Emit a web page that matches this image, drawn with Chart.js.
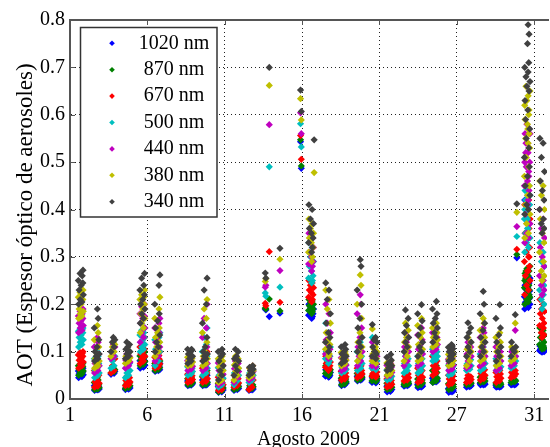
<!DOCTYPE html>
<html><head><meta charset="utf-8">
<script src="https://cdn.jsdelivr.net/npm/chart.js@4/dist/chart.umd.min.js"></script>
<style>html,body{margin:0;padding:0;background:#fff;overflow:hidden;width:550px;height:447px}canvas{display:block}</style>
</head><body><canvas id="c" width="551" height="447"></canvas>
<script>
const xTickValues = [1, 6, 11, 16, 21, 26, 31];
const xTickLabels = ['1', '6', '11', '16', '21', '27', '31'];
const yTickValues = [0, 0.1, 0.2, 0.3, 0.4, 0.5, 0.6, 0.7, 0.8];
const seriesNames = ['1020 nm', '870 nm', '670 nm', '500 nm', '440 nm', '380 nm', '340 nm'];
const seriesColors = ['#0000ff', '#008000', '#ff0000', '#00bfbf', '#bf00bf', '#bfbf00', '#404040'];
const yTitle = 'AOT (Espesor óptico de aerosoles)';
const xTitle = 'Agosto 2009';

// time of each measurement (day of August 2009, on the plot's axis)
const t = [
1.56,1.77,1.66,1.86,1.59,1.72,1.83,1.54,1.79,1.65,1.84,
2.59,2.80,2.69,2.89,2.62,2.75,2.86,2.57,2.82,2.77,
3.65,3.85,3.74,3.90,3.80,
4.58,4.79,4.68,4.88,4.61,4.74,4.85,4.67,
5.54,5.75,5.64,5.84,5.57,5.70,5.81,5.52,5.77,5.63,5.82,
6.50,6.71,6.60,6.80,6.53,6.66,6.77,6.48,6.75,6.81,
8.62,8.83,8.72,8.92,8.65,8.78,8.89,8.60,8.85,
9.58,9.79,9.68,9.88,9.61,9.74,9.85,9.56,9.81,9.67,9.86,
10.60,10.81,10.70,10.90,10.63,10.76,10.87,10.58,10.83,
11.60,11.81,11.70,11.90,11.63,11.76,11.87,11.69,
12.57,12.77,12.66,12.84,12.61,12.81,
13.62,13.66,13.88,
14.57,
15.90,15.95,
16.44,16.65,16.54,16.74,16.47,16.60,16.71,16.42,16.67,16.62,16.78,
17.53,17.74,17.63,17.83,17.56,17.69,17.80,17.51,17.76,17.71,
18.55,18.76,18.65,18.85,18.58,18.71,18.82,18.53,18.78,
19.58,19.79,19.68,19.88,19.61,19.74,19.85,19.56,19.81,19.76,
20.54,20.75,20.64,20.84,20.57,20.70,20.81,20.52,20.77,
21.50,21.71,21.60,21.80,21.53,21.66,21.77,21.48,21.73,
22.59,22.80,22.69,22.89,22.62,22.75,22.86,22.68,
23.49,23.70,23.59,23.79,23.52,23.65,23.76,23.47,23.72,
24.45,24.66,24.55,24.75,24.48,24.61,24.72,24.43,24.68,
25.48,25.69,25.58,25.78,25.51,25.64,25.75,25.46,25.71,25.66,
26.63,26.84,26.73,26.93,26.66,26.79,26.90,26.72,
27.53,27.74,27.63,27.83,27.56,27.69,27.80,27.51,27.76,27.71,
28.55,28.76,28.65,28.85,28.58,28.71,28.82,28.53,28.78,
29.51,29.72,29.61,29.81,29.54,29.78,29.88,
30.39,30.63,30.51,30.73,30.43,30.57,30.69,30.37,30.65,30.49,30.71,30.45,30.59,30.41,30.67,30.53,30.73,30.47,30.61,30.39,30.65,30.57,30.67,30.61,
31.37,31.58,31.47,31.67,31.40,31.53,31.64,31.35,31.60,31.46,31.65,31.51
];

const aot340 = [
0.200,0.205,0.210,0.220,0.230,0.240,0.245,0.250,0.260,0.265,0.272,
0.080,0.085,0.090,0.095,0.100,0.110,0.125,0.150,0.170,0.190,
0.100,0.110,0.120,0.125,0.130,
0.085,0.090,0.095,0.100,0.105,0.110,0.115,0.120,
0.160,0.170,0.180,0.190,0.200,0.210,0.220,0.230,0.240,0.255,0.265,
0.100,0.110,0.120,0.135,0.150,0.165,0.180,0.200,0.240,0.262,
0.075,0.080,0.085,0.090,0.095,0.100,0.103,0.105,0.105,
0.080,0.085,0.090,0.095,0.100,0.110,0.130,0.160,0.200,0.230,0.255,
0.040,0.050,0.060,0.070,0.080,0.090,0.095,0.100,0.105,
0.050,0.060,0.070,0.080,0.085,0.090,0.100,0.105,
0.050,0.055,0.060,0.063,0.067,0.070,
0.266,0.255,0.700,
0.318,
0.652,0.607,
0.410,0.400,0.380,0.370,0.360,0.350,0.340,0.330,0.320,0.310,0.547,
0.245,0.230,0.210,0.180,0.160,0.140,0.130,0.120,0.110,0.100,
0.075,0.080,0.085,0.090,0.095,0.100,0.105,0.110,0.115,
0.100,0.110,0.120,0.130,0.150,0.170,0.200,0.230,0.280,0.294,
0.157,0.130,0.125,0.120,0.110,0.100,0.095,0.090,0.085,
0.060,0.063,0.066,0.070,0.074,0.078,0.082,0.088,0.094,
0.100,0.110,0.120,0.130,0.140,0.155,0.170,0.188,
0.090,0.100,0.110,0.120,0.135,0.150,0.165,0.180,0.199,
0.120,0.130,0.140,0.150,0.160,0.170,0.180,0.190,0.206,
0.080,0.085,0.090,0.095,0.100,0.103,0.106,0.109,0.112,0.115,
0.090,0.100,0.110,0.120,0.130,0.140,0.150,0.161,
0.090,0.100,0.110,0.120,0.130,0.145,0.160,0.180,0.200,0.227,
0.080,0.090,0.100,0.110,0.120,0.135,0.150,0.170,0.199,
0.090,0.100,0.105,0.110,0.120,0.178,0.412,
0.39,0.40,0.41,0.43,0.45,0.47,0.49,0.51,0.53,0.55,0.57,0.59,0.61,0.63,0.65,0.66,0.67,0.68,0.69,0.70,0.71,0.75,0.77,0.79,
0.55,0.54,0.51,0.48,0.46,0.44,0.42,0.40,0.38,0.37,0.36,0.35
];

const aot380 = [
0.170,0.175,0.180,0.185,0.190,0.200,0.210,0.215,0.220,0.225,0.230,
0.065,0.070,0.075,0.080,0.085,0.095,0.110,0.125,0.140,0.155,
0.090,0.100,0.110,0.115,0.120,
0.075,0.080,0.083,0.087,0.090,0.095,0.100,0.105,
0.140,0.150,0.160,0.170,0.180,0.190,0.200,0.210,0.215,0.220,0.230,
0.090,0.100,0.110,0.120,0.130,0.140,0.150,0.170,0.190,0.215,
0.070,0.072,0.075,0.078,0.080,0.083,0.086,0.088,0.090,
0.070,0.075,0.080,0.085,0.090,0.100,0.120,0.140,0.170,0.190,0.210,
0.035,0.040,0.050,0.060,0.068,0.075,0.080,0.085,0.090,
0.040,0.050,0.058,0.065,0.072,0.078,0.085,0.090,
0.045,0.050,0.055,0.060,0.065,0.070,
0.248,0.254,0.662,
0.295,
0.634,0.589,
0.380,0.370,0.360,0.350,0.340,0.330,0.320,0.310,0.300,0.290,0.478,
0.230,0.210,0.190,0.160,0.140,0.125,0.115,0.105,0.095,0.090,
0.070,0.074,0.078,0.082,0.086,0.090,0.094,0.098,0.100,
0.080,0.090,0.100,0.110,0.120,0.140,0.170,0.200,0.240,0.262,
0.148,0.110,0.105,0.100,0.095,0.090,0.085,0.080,0.075,
0.050,0.053,0.056,0.060,0.064,0.068,0.072,0.076,0.080,
0.080,0.090,0.100,0.110,0.120,0.130,0.145,0.160,
0.080,0.085,0.095,0.105,0.115,0.130,0.140,0.155,0.170,
0.110,0.115,0.120,0.125,0.130,0.135,0.140,0.150,0.160,
0.070,0.073,0.077,0.081,0.085,0.088,0.091,0.094,0.097,0.100,
0.070,0.080,0.090,0.100,0.105,0.110,0.120,0.130,
0.080,0.085,0.090,0.100,0.110,0.120,0.130,0.145,0.160,0.170,
0.070,0.075,0.080,0.090,0.100,0.110,0.120,0.130,0.140,
0.080,0.085,0.090,0.100,0.110,0.160,0.394,
0.34,0.35,0.37,0.39,0.41,0.43,0.45,0.47,0.49,0.51,0.53,0.55,0.57,0.59,0.61,0.63,0.65,0.66,0.64,0.62,0.60,0.58,0.56,0.54,
0.46,0.45,0.43,0.40,0.38,0.35,0.33,0.31,0.29,0.27,0.26,0.25
];

const aot440 = [
0.140,0.145,0.150,0.155,0.160,0.165,0.170,0.175,0.180,0.185,0.190,
0.055,0.060,0.065,0.070,0.075,0.085,0.095,0.110,0.120,0.130,
0.085,0.090,0.100,0.110,0.115,
0.065,0.070,0.074,0.078,0.082,0.086,0.090,0.095,
0.120,0.130,0.140,0.150,0.160,0.170,0.175,0.180,0.190,0.195,0.200,
0.080,0.090,0.100,0.110,0.120,0.130,0.140,0.150,0.160,0.170,
0.060,0.063,0.066,0.069,0.072,0.075,0.078,0.081,0.085,
0.060,0.065,0.070,0.075,0.080,0.090,0.110,0.130,0.150,0.170,0.200,
0.030,0.035,0.045,0.052,0.060,0.066,0.072,0.076,0.080,
0.035,0.045,0.052,0.058,0.064,0.070,0.075,0.080,
0.040,0.045,0.050,0.058,0.065,0.070,
0.236,0.240,0.579,
0.271,
0.604,0.560,
0.350,0.340,0.330,0.320,0.310,0.300,0.290,0.285,0.280,0.270,null,
0.200,0.180,0.160,0.140,0.125,0.115,0.105,0.095,0.090,0.085,
0.060,0.064,0.068,0.072,0.076,0.080,0.084,0.087,0.090,
0.070,0.080,0.090,0.100,0.110,0.130,0.150,0.180,0.200,0.220,
0.120,0.100,0.095,0.090,0.085,0.080,0.075,0.070,0.068,
0.048,0.050,0.053,0.056,0.060,0.063,0.067,0.071,0.075,
0.070,0.080,0.090,0.100,0.110,0.120,0.130,0.140,
0.070,0.075,0.085,0.095,0.105,0.115,0.125,0.135,0.150,
0.100,0.105,0.110,0.115,0.120,0.125,0.130,0.140,0.150,
0.060,0.063,0.067,0.071,0.075,0.078,0.081,0.084,0.087,0.090,
0.065,0.070,0.080,0.090,0.095,0.100,0.110,0.120,
0.070,0.075,0.080,0.090,0.100,0.110,0.120,0.130,0.140,0.150,
0.060,0.065,0.070,0.080,0.090,0.095,0.100,0.110,0.120,
0.070,0.075,0.080,0.090,0.100,0.145,0.364,
0.33,0.34,0.35,0.37,0.39,0.41,0.43,0.45,0.47,0.49,0.50,0.52,0.54,0.56,0.57,0.58,0.56,0.54,0.52,0.50,0.48,0.46,0.44,0.42,
0.40,0.38,0.36,0.34,0.32,0.30,0.28,0.26,0.25,0.24,0.23,0.22
];

const aot500 = [
0.110,0.115,0.120,0.125,0.130,0.135,0.140,0.143,0.146,0.148,0.150,
0.045,0.050,0.052,0.055,0.060,0.065,0.075,0.085,0.090,0.100,
0.065,0.070,0.080,0.090,0.100,
0.045,0.050,0.055,0.060,0.065,0.070,0.075,0.080,
0.100,0.105,0.110,0.115,0.120,0.125,0.130,0.135,0.140,0.145,0.150,
0.070,0.080,0.090,0.100,0.105,0.110,0.120,0.125,0.130,0.140,
0.050,0.053,0.055,0.058,0.060,0.063,0.065,0.068,0.070,
0.050,0.055,0.060,0.065,0.070,0.080,0.090,0.100,0.115,0.130,0.150,
0.025,0.030,0.037,0.044,0.050,0.056,0.062,0.066,0.070,
0.030,0.038,0.044,0.050,0.055,0.060,0.065,0.070,
0.035,0.040,0.045,0.050,0.055,0.060,
0.224,0.217,0.490,
0.236,
0.581,0.532,
0.330,0.320,0.300,0.290,0.280,0.270,0.260,0.255,0.250,0.245,null,
0.160,0.140,0.120,0.110,0.100,0.095,0.090,0.085,0.080,0.075,
0.055,0.058,0.060,0.063,0.066,0.069,0.071,0.073,0.075,
0.060,0.065,0.070,0.075,0.080,0.085,0.090,0.100,0.110,0.120,
0.130,0.090,0.085,0.080,0.075,0.070,0.068,0.065,0.062,
0.040,0.042,0.045,0.048,0.051,0.054,0.057,0.061,0.065,
0.055,0.060,0.065,0.070,0.075,0.080,0.085,0.090,
0.055,0.060,0.065,0.070,0.075,0.080,0.085,0.090,0.100,
0.080,0.083,0.086,0.090,0.093,0.096,0.100,0.105,0.110,
0.050,0.053,0.056,0.059,0.062,0.065,0.068,0.071,0.075,0.080,
0.060,0.063,0.066,0.070,0.074,0.078,0.083,0.090,
0.060,0.065,0.070,0.075,0.080,0.085,0.090,0.095,0.100,0.110,
0.060,0.062,0.065,0.068,0.072,0.076,0.080,0.085,0.090,
0.065,0.070,0.075,0.080,0.085,0.090,0.343,
0.31,0.32,0.33,0.34,0.35,0.36,0.37,0.38,0.39,0.40,0.41,0.42,0.43,0.44,0.45,0.44,0.43,0.42,0.41,0.40,0.39,0.38,0.37,0.36,
0.33,0.31,0.29,0.28,0.26,0.25,0.24,0.23,0.22,0.21,0.20,0.19
];

const aot670 = [
0.065,0.070,0.074,0.078,0.082,0.086,0.090,0.093,0.096,0.098,0.100,
0.025,0.027,0.030,0.033,0.036,0.040,0.050,0.060,0.070,0.080,
0.055,0.060,0.070,0.085,0.100,
0.028,0.030,0.033,0.036,0.039,0.042,0.045,0.048,
0.075,0.080,0.085,0.090,0.095,0.100,0.105,0.110,0.115,0.120,0.130,
0.065,0.068,0.071,0.074,0.077,0.080,0.084,0.088,0.092,0.100,
0.035,0.037,0.039,0.041,0.043,0.046,0.049,0.052,0.055,
0.035,0.037,0.040,0.043,0.046,0.050,0.055,0.065,0.075,0.085,0.100,
0.018,0.020,0.025,0.030,0.034,0.038,0.042,0.046,0.050,
0.025,0.028,0.031,0.034,0.037,0.040,0.043,0.045,
0.020,0.025,0.030,0.040,0.045,0.050,
0.202,0.197,0.311,
0.204,
0.556,0.506,
0.250,0.245,0.240,0.235,0.230,0.225,0.220,0.215,0.210,0.205,null,
0.090,0.085,0.080,0.078,0.075,0.072,0.070,0.067,0.064,0.060,
0.040,0.042,0.044,0.047,0.050,0.053,0.055,0.058,0.060,
0.045,0.048,0.050,0.053,0.055,0.058,0.060,0.065,0.070,0.075,
0.065,0.062,0.060,0.057,0.054,0.052,0.050,0.048,0.046,
0.025,0.027,0.029,0.031,0.033,0.036,0.039,0.042,0.045,
0.038,0.040,0.042,0.045,0.048,0.050,0.053,0.055,
0.035,0.038,0.042,0.046,0.050,0.055,0.060,0.065,0.070,
0.050,0.055,0.060,0.065,0.070,0.075,0.080,0.090,0.100,
0.030,0.033,0.036,0.039,0.042,0.045,0.048,0.050,0.052,0.055,
0.035,0.037,0.039,0.041,0.043,0.045,0.047,0.050,
0.040,0.043,0.046,0.050,0.054,0.058,0.062,0.068,0.074,0.080,
0.035,0.038,0.041,0.044,0.047,0.050,0.053,0.056,0.060,
0.045,0.048,0.050,0.053,0.056,0.060,0.316,
0.22,0.23,0.24,0.25,0.26,0.27,0.28,0.29,0.30,0.31,0.32,0.33,0.34,0.35,0.36,0.37,0.38,0.39,0.40,0.41,0.42,0.34,0.30,0.27,
0.21,0.20,0.19,0.185,0.18,0.17,0.16,0.155,0.15,0.14,0.135,0.13
];

const aot870 = [
0.050,0.053,0.056,0.059,0.062,0.065,0.068,0.070,0.072,0.074,0.076,
0.020,0.021,0.022,0.024,0.026,0.028,0.030,0.035,0.040,0.045,
0.055,0.057,0.060,0.062,0.065,
0.022,0.024,0.026,0.028,0.030,0.032,0.034,0.036,
0.070,0.073,0.076,0.079,0.082,0.085,0.088,0.091,0.094,0.097,0.100,
0.060,0.062,0.064,0.066,0.068,0.070,0.072,0.075,0.078,0.080,
0.030,0.031,0.033,0.035,0.037,0.039,0.041,0.043,0.045,
0.030,0.031,0.033,0.035,0.037,0.040,0.043,0.047,0.051,0.055,0.060,
0.015,0.017,0.020,0.023,0.026,0.028,0.030,0.032,0.035,
0.020,0.022,0.024,0.026,0.028,0.030,0.032,0.035,
0.020,0.022,0.024,0.026,0.028,0.030,
0.192,0.190,0.211,
0.186,
0.547,0.492,
0.210,0.207,0.204,0.200,0.197,0.194,0.190,0.187,0.184,0.180,null,
0.070,0.067,0.064,0.062,0.060,0.058,0.056,0.054,0.052,0.050,
0.030,0.032,0.034,0.036,0.038,0.040,0.042,0.044,0.045,
0.040,0.042,0.044,0.046,0.048,0.050,0.052,0.054,0.056,0.058,
0.050,0.048,0.046,0.044,0.042,0.040,0.039,0.038,0.037,
0.020,0.021,0.023,0.025,0.027,0.029,0.031,0.033,0.035,
0.030,0.031,0.032,0.033,0.034,0.035,0.037,0.040,
0.028,0.030,0.032,0.034,0.036,0.038,0.040,0.042,0.045,
0.035,0.038,0.041,0.044,0.048,0.052,0.056,0.060,0.070,
0.020,0.022,0.024,0.026,0.028,0.030,0.031,0.032,0.033,0.035,
0.030,0.031,0.032,0.033,0.034,0.035,0.035,0.036,
0.035,0.036,0.037,0.038,0.040,0.042,0.044,0.046,0.048,0.050,
0.030,0.030,0.031,0.031,0.032,0.033,0.034,0.034,0.035,
0.035,0.036,0.037,0.038,0.039,0.040,0.305,
0.200,0.205,0.210,0.215,0.220,0.225,0.230,0.235,0.240,0.245,0.250,0.255,0.260,0.265,0.270,0.275,0.280,0.270,0.260,0.250,0.240,0.230,0.220,0.210,
0.150,0.145,0.140,0.135,0.130,0.125,0.120,0.115,0.112,0.110,0.107,0.105
];

const aot1020 = [
0.045,0.047,0.049,0.051,0.053,0.055,0.057,0.059,0.061,0.063,0.065,
0.018,0.019,0.020,0.021,0.022,0.024,0.026,0.028,0.030,0.035,
0.052,0.054,0.056,0.058,0.060,
0.020,0.021,0.022,0.023,0.024,0.025,0.026,0.028,
0.065,0.067,0.069,0.071,0.073,0.075,0.078,0.081,0.084,0.087,0.090,
0.058,0.060,0.061,0.062,0.064,0.066,0.068,0.070,0.072,0.075,
0.028,0.029,0.030,0.032,0.034,0.035,0.036,0.038,0.040,
0.028,0.029,0.030,0.031,0.033,0.035,0.037,0.040,0.043,0.046,0.050,
0.014,0.015,0.017,0.019,0.021,0.023,0.025,0.027,0.030,
0.018,0.020,0.021,0.022,0.024,0.026,0.028,0.030,
0.018,0.019,0.020,0.021,0.023,0.025,
0.190,0.188,0.174,
0.181,
0.543,0.487,
0.200,0.197,0.194,0.190,0.187,0.184,0.180,0.177,0.174,0.170,null,
0.062,0.060,0.058,0.056,0.054,0.052,0.050,0.048,0.047,0.046,
0.028,0.030,0.031,0.033,0.034,0.036,0.037,0.039,0.040,
0.038,0.040,0.041,0.042,0.044,0.045,0.047,0.048,0.050,0.052,
0.045,0.043,0.041,0.040,0.038,0.037,0.036,0.035,0.034,
0.015,0.016,0.018,0.020,0.021,0.023,0.025,0.027,0.030,
0.027,0.028,0.029,0.030,0.031,0.032,0.033,0.035,
0.024,0.025,0.026,0.027,0.028,0.029,0.030,0.031,0.033,
0.035,0.036,0.037,0.038,0.039,0.040,0.042,0.044,0.046,
0.014,0.015,0.016,0.017,0.018,0.019,0.020,0.022,0.024,0.025,
0.025,0.026,0.027,0.028,0.029,0.030,0.030,0.031,
0.030,0.030,0.031,0.031,0.032,0.032,0.033,0.033,0.034,0.035,
0.025,0.025,0.026,0.026,0.027,0.028,0.028,0.029,0.030,
0.030,0.030,0.031,0.031,0.032,0.032,0.298,
0.190,0.193,0.196,0.200,0.204,0.208,0.212,0.216,0.220,0.224,0.228,0.232,0.236,0.240,0.245,0.250,0.255,0.260,0.400,0.420,0.410,0.230,0.220,0.210,
0.112,0.110,0.108,0.106,0.105,0.104,0.103,0.102,0.101,0.100,0.100,0.099
];

const seriesValues = [aot1020, aot870, aot670, aot500, aot440, aot380, aot340];
const FONT = "'Liberation Serif', 'Times New Roman', serif";

const datasets = seriesValues.map((vals, i) => ({
  label: seriesNames[i],
  data: t.map((x, k) => ({x: x, y: vals[k]})).filter(p => p.y !== null && p.y !== undefined),
  pointStyle: 'rectRot',
  pointRadius: 3.6,
  pointBorderWidth: 0,
  backgroundColor: seriesColors[i],
  borderColor: seriesColors[i],
  showLine: false,
  order: seriesValues.length - 1 - i
}));

const framePlugin = {
  id: 'frame',
  afterDatasetsDraw(chart) {
    const {ctx, chartArea: a, scales} = chart;
    ctx.save();
    ctx.strokeStyle = '#555';
    ctx.lineWidth = 2;
    ctx.beginPath();
    ctx.moveTo(a.left - 1, a.top); ctx.lineTo(a.right + 2, a.top);
    ctx.moveTo(a.left, a.top); ctx.lineTo(a.left, a.bottom + 1);
    ctx.moveTo(a.left - 1, a.bottom); ctx.lineTo(a.right + 2, a.bottom);
    ctx.stroke();
    ctx.lineWidth = 1;
    ctx.beginPath();
    yTickValues.forEach(v => {
      const y = Math.round(scales.y.getPixelForValue(v)) + 0.5;
      ctx.moveTo(a.left, y); ctx.lineTo(a.left + 5, y);
    });
    xTickValues.forEach(v => {
      const x = Math.round(scales.x.getPixelForValue(v)) + 0.5;
      ctx.moveTo(x, a.top); ctx.lineTo(x, a.top + 5);
      ctx.moveTo(x, a.bottom); ctx.lineTo(x, a.bottom - 5);
    });
    ctx.stroke();
    // y axis title
    ctx.fillStyle = '#000';
    ctx.font = '23px ' + FONT;
    ctx.textAlign = 'center';
    ctx.textBaseline = 'middle';
    ctx.translate(26, 225);
    ctx.rotate(-Math.PI / 2);
    ctx.fillText(yTitle, 0, 0);
    ctx.restore();
  }
};

const legendPlugin = {
  id: 'boxLegend',
  afterDraw(chart) {
    const ctx = chart.ctx;
    const L = 80.5, T = 27.5, W = 136.5, H = 189.5;
    ctx.save();
    ctx.fillStyle = '#fff';
    ctx.fillRect(L, T, W, H);
    ctx.strokeStyle = '#333';
    ctx.lineWidth = 1.5;
    ctx.strokeRect(L, T, W, H);
    ctx.font = '20px ' + FONT;
    ctx.textAlign = 'center';
    ctx.textBaseline = 'middle';
    seriesNames.forEach((name, i) => {
      const y = 43.3 + i * 26.4;
      const x = 112, r = 2.8;
      ctx.fillStyle = seriesColors[i];
      ctx.beginPath();
      ctx.moveTo(x - r, y); ctx.lineTo(x, y - r); ctx.lineTo(x + r, y); ctx.lineTo(x, y + r);
      ctx.closePath(); ctx.fill();
      ctx.fillStyle = '#000';
      ctx.fillText(name, 174, y);
    });
    ctx.restore();
  }
};

new Chart(document.getElementById('c'), {
  type: 'scatter',
  data: {datasets},
  options: {
    responsive: false,
    animation: false,
    devicePixelRatio: 1,
    layout: {padding: {top: 20, left: 0, right: 0, bottom: 0}},
    plugins: {legend: {display: false}, tooltip: {enabled: false}},
    scales: {
      x: {
        type: 'linear', min: 1, max: 31.83,
        afterBuildTicks: s => { s.ticks = xTickValues.map(v => ({value: v})); },
        afterFit: s => { s.height = 48; },
        ticks: {
          autoSkip: false, maxRotation: 0, padding: 5, color: '#000',
          font: {family: FONT, size: 20},
          callback: v => { const k = xTickValues.indexOf(v); return k >= 0 ? xTickLabels[k] : ''; }
        },
        grid: {color: '#222', lineWidth: 1, drawTicks: false},
        border: {display: true, color: '#555', width: 2, dash: [1, 3]},
        title: {display: true, text: xTitle, color: '#000', padding: 0,
                font: {family: FONT, size: 20, lineHeight: 0.77}}
      },
      y: {
        type: 'linear', min: 0, max: 0.8,
        afterBuildTicks: s => { s.ticks = yTickValues.map(v => ({value: v})); },
        afterFit: s => { s.width = 70; },
        ticks: {
          padding: 5, color: '#000',
          font: {family: FONT, size: 20},
          callback: v => (Math.abs(v) < 1e-9 ? '0' : v.toFixed(1))
        },
        grid: {color: '#222', lineWidth: 1, drawTicks: false},
        border: {display: true, color: '#555', width: 2, dash: [1, 3]},
        title: {display: false}
      }
    }
  },
  plugins: [framePlugin, legendPlugin]
});
</script>
</body></html>
